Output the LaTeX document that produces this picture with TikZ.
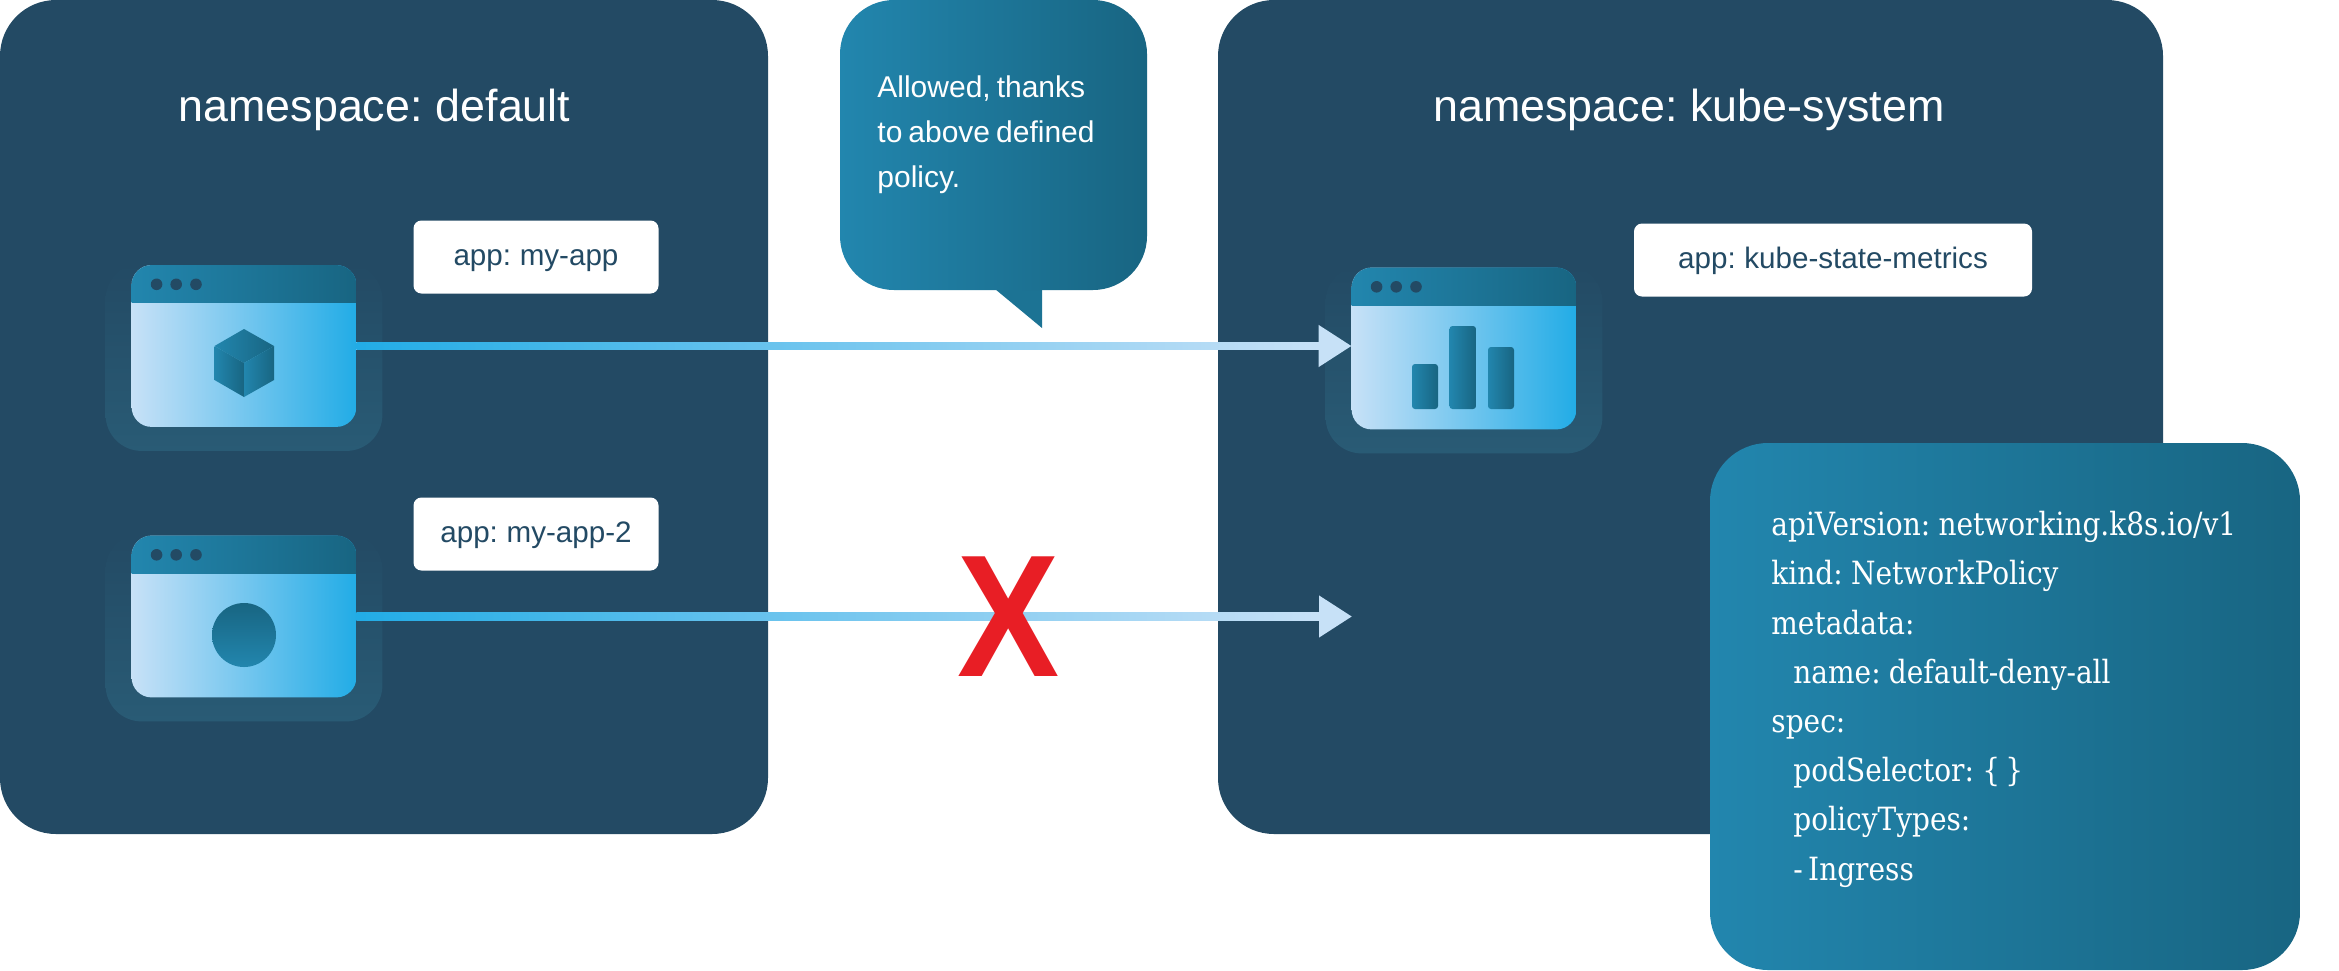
\documentclass[tikz,border=0pt]{standalone}
\usepackage{fontspec}
\setmainfont[WordSpace=0.72]{Liberation Sans}
\newfontfamily\slabfont[FakeStretch=0.875,WordSpace=0.6]{DejaVu Serif}
\newfontfamily\boldx[FakeStretch=0.88]{Liberation Sans Bold}
\usetikzlibrary{arrows.meta}
\definecolor{panelc}{HTML}{234A64}
\definecolor{haloc}{HTML}{295B75}
\definecolor{tealL}{HTML}{2286AE}
\definecolor{tealR}{HTML}{186582}
\definecolor{skyL}{HTML}{C7E1F7}
\definecolor{skyR}{HTML}{22ACE6}
\definecolor{inkc}{HTML}{234A64}
\definecolor{redx}{HTML}{E81E25}
\tikzset{
  panelbox/.style={fill=panelc,rounded corners=28pt,anchor=north west,inner sep=0pt},
  tealgrad/.style={left color=tealL,right color=tealR},
  skygrad/.style={left color=skyL,right color=skyR},
  winbox/.style={minimum width=112pt,minimum height=80.5pt,inner sep=0pt},
  tagbox/.style={fill=white,rounded corners=4pt,minimum width=122.5pt,minimum height=36.5pt,inner sep=0pt,text=inkc,text height=11pt,text depth=3pt,font=\fontsize{14.8}{17}\selectfont},
  titletext/.style={text=white,font=\fontsize{22.4}{26}\selectfont,anchor=base,inner sep=0pt},
  flow/.style={line width=3.8pt,draw=skyL,-{Triangle[length=16.5pt,width=20pt]},shorten >=0pt},
}
\newcommand{\appwindow}[1]{%
  \shade[bottom color=haloc,top color=panelc,rounded corners=18pt]
    ([xshift=-13pt,yshift=1pt]#1.north west) rectangle ([xshift=13pt,yshift=-12pt]#1.south east);
  \begin{scope}
    \clip[rounded corners=10pt] (#1.north west) rectangle (#1.south east);
    \shade[skygrad] (#1.north west) rectangle (#1.south east);
    \shade[tealgrad] (#1.north west) rectangle ([yshift=-18.7pt]#1.north east);
  \end{scope}
  \foreach \d in {12.5,22.3,32.2}
    \fill[panelc] ([xshift=\d pt,yshift=-9.6pt]#1.north west) circle (2.9pt);
}
\newcommand{\flowshaft}[2]{%
  \shade[left color=skyR,right color=skyL] ([yshift=1.9pt]#1.east) rectangle ([yshift=-1.9pt]#2);
}
\begin{document}
\begin{tikzpicture}[x=0.5pt,y=-0.5pt]
\useasboundingbox (0,0) rectangle (2339,970);
\fill[white] (0,0) rectangle (2339,970);
% panels
\path[panelbox] (0,0) rectangle (768,834);
\path[panelbox] (1218,0) rectangle (2163,834);
% window anchors
\node[winbox] (win1) at (244,346) {};
\node[winbox] (win2) at (244,616.5) {};
\node[winbox] (win3) at (1464,348.5) {};
\coordinate (end2) at (1352,616.5);
\appwindow{win1}
\appwindow{win2}
\appwindow{win3}
% connectors
\draw[flow] (win1.east) -- (win1.east -| win3.west);
\draw[flow] (win2.east) -- (end2);
\coordinate (shaft1) at ([xshift=-16.5pt]win1.east -| win3.west);
\coordinate (shaft2) at ([xshift=-16.5pt]end2);
\flowshaft{win1}{shaft1}
\flowshaft{win2}{shaft2}
% cube
\shade[tealgrad] (244,329) -- (274,346) -- (244,363) -- (214.5,346) -- cycle;
\shade[tealgrad] (214.5,346) -- (244,363) -- (244,397) -- (214.5,380) -- cycle;
\shade[tealgrad] (244,363) -- (274,346) -- (274,380) -- (244,397) -- cycle;
% disc
\shade[top color=tealR,bottom color=tealL] (244,635) circle (16pt);
% bars
\shade[tealgrad,rounded corners=1.5pt] (1412,364) rectangle (1438,409);
\shade[tealgrad,rounded corners=1.5pt] (1449.5,326) rectangle (1476,409);
\shade[tealgrad,rounded corners=1.5pt] (1488,347) rectangle (1514,409);
% labels
\node[tagbox] (tag1) at (536,257) {app: my-app};
\node[tagbox] (tag2) at (536,534) {app: my-app-2};
\node[tagbox,minimum width=199pt] (tag3) at (1833,260) {app: kube-state-metrics};
% titles
\node[titletext] (title1) at (374.5,121) {namespace: default};
\node[titletext] (title2) at (1689,121) {namespace: kube-system};
% bubble
\fill[tealR!58!tealL] (995,289) -- (1042,328) -- (1042,289) -- cycle;
\shade[tealgrad,rounded corners=27pt] (840,0) rectangle (1147,290);
\node[text=white,align=left,anchor=base west,inner sep=0pt,font=\fontsize{15}{22.5}\selectfont] (bubbletext) at (877,187) {Allowed, thanks\\to above defined\\policy.};
% X
\node[text=redx,inner sep=0pt,font=\boldx\fontsize{87}{87}\selectfont] (cross) at (1009,617) {X};
% code box
\shade[tealgrad,rounded corners=29pt] (1710,443) rectangle (2300,970);
\node[text=white,align=left,anchor=north west,inner sep=0pt,font=\slabfont\fontsize{16}{24.6}\selectfont] (policy) at (1771,511) {apiVersion: networking.k8s.io/v1\\kind: NetworkPolicy\\metadata:\\\hspace*{11pt}name: default-deny-all\\spec:\\\hspace*{11pt}podSelector: \{ \}\\\hspace*{11pt}policyTypes:\\\hspace*{11pt}- Ingress};
\end{tikzpicture}
\end{document}
